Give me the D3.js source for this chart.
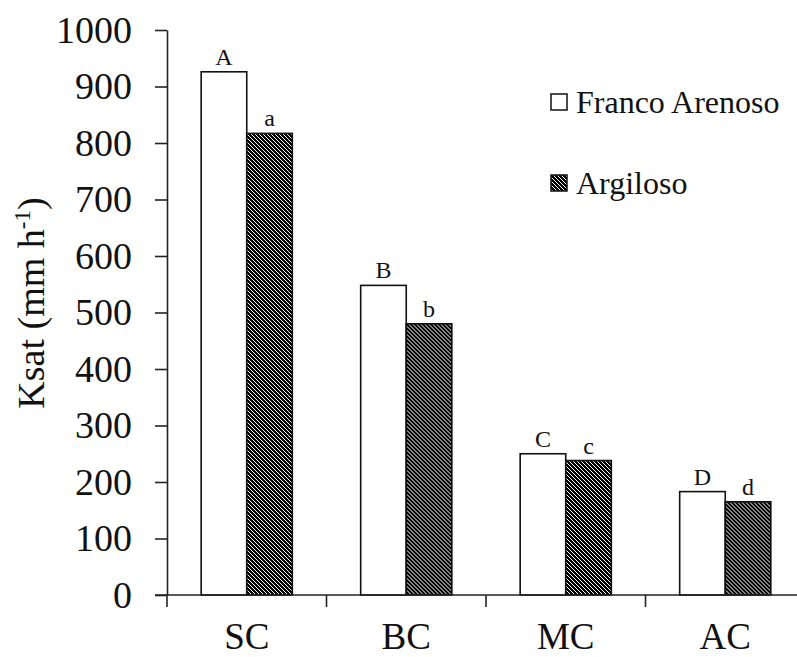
<!DOCTYPE html>
<html>
<head>
<meta charset="utf-8">
<script src="https://cdn.jsdelivr.net/npm/d3@7"></script>
<style>
  html, body { margin: 0; padding: 0; background: #fff; }
  svg { display: block; }
</style>
</head>
<body>
<svg id="chart" width="797" height="657"></svg>
<script>
// Saturated hydraulic conductivity by treatment and soil texture
const categories = ["SC", "BC", "MC", "AC"];
const seriesNames = ["Franco Arenoso", "Argiloso"];
const francoArenoso = [926, 548, 250, 183];
const argiloso = [817, 480, 238, 165];
const francoLetters = ["A", "B", "C", "D"];
const argilosoLetters = ["a", "b", "c", "d"];
const yTicks = [0, 100, 200, 300, 400, 500, 600, 700, 800, 900, 1000];

const SERIF = "'Liberation Serif', 'Times New Roman', serif";
const INK = "#111";

const svg = d3.select("#chart");

const plotLeft = 167, plotRight = 805, plotTop = 30, plotBottom = 595;

const x = d3.scaleBand().domain(categories).range([plotLeft, plotRight]).paddingInner(0).paddingOuter(0);
const inner = d3.scaleBand().domain(seriesNames).range([0, x.bandwidth()]).paddingInner(0).paddingOuter(0.75);
const y = d3.scaleLinear().domain([0, 1000]).range([plotBottom, plotTop]);

// diagonal hatch for the clay-soil series
const defs = svg.append("defs");
const pat = defs.append("pattern")
  .attr("id", "hatch")
  .attr("patternUnits", "userSpaceOnUse")
  .attr("width", 4).attr("height", 4);
pat.append("rect").attr("width", 4).attr("height", 4).attr("fill", "#fff");
pat.append("path")
  .attr("d", "M-1,-1L5,5M-1,3L1,5M3,-1L5,1")
  .attr("stroke", "#000").attr("stroke-width", 1.5)
  .attr("shape-rendering", "crispEdges");

const fills = { "Franco Arenoso": "#fff", "Argiloso": "url(#hatch)" };

const rows = categories.map((c, i) => ({
  cat: c,
  bars: [
    { s: seriesNames[0], v: francoArenoso[i], lab: francoLetters[i] },
    { s: seriesNames[1], v: argiloso[i], lab: argilosoLetters[i] }
  ]
}));

const groups = svg.append("g").selectAll("g")
  .data(rows).join("g")
  .attr("transform", d => `translate(${x(d.cat)},0)`);

groups.selectAll("rect")
  .data(d => d.bars).join("rect")
  .attr("x", d => inner(d.s))
  .attr("y", d => y(d.v))
  .attr("width", inner.bandwidth())
  .attr("height", d => y(0) - y(d.v))
  .attr("fill", d => fills[d.s])
  .attr("stroke", INK)
  .attr("stroke-width", 1.6);

groups.selectAll("text.lab")
  .data(d => d.bars).join("text")
  .attr("class", "lab")
  .attr("x", d => inner(d.s) + inner.bandwidth() / 2)
  .attr("y", d => y(d.v) - 7)
  .attr("text-anchor", "middle")
  .style("font-family", SERIF)
  .style("font-size", "24px")
  .style("fill", INK)
  .text(d => d.lab);

// y axis
const yAxis = svg.append("g")
  .attr("transform", `translate(${plotLeft},0)`)
  .call(d3.axisLeft(y).tickValues(yTicks).tickFormat(d3.format("d"))
    .tickSize(12).tickSizeOuter(0).tickPadding(23));
yAxis.selectAll("text")
  .style("font-family", SERIF).style("font-size", "38px").style("fill", INK);
yAxis.selectAll("line, path").attr("stroke", "#222").attr("stroke-width", 1.6);

// x axis: labels centred in bands, ticks on band boundaries
const xAxis = svg.append("g")
  .attr("transform", `translate(0,${plotBottom})`)
  .call(d3.axisBottom(x).tickSize(0).tickPadding(28));
xAxis.select("path.domain").remove();
xAxis.selectAll("text")
  .style("font-family", SERIF).style("font-size", "37px").style("fill", INK);

const xBase = svg.append("g").attr("transform", `translate(0,${plotBottom})`);
xBase.append("line")
  .attr("x1", plotLeft - 12).attr("x2", plotRight)
  .attr("stroke", "#222").attr("stroke-width", 1.6);
xBase.selectAll("line.tick")
  .data(categories).join("line")
  .attr("class", "tick")
  .attr("x1", d => x(d)).attr("x2", d => x(d))
  .attr("y1", 0).attr("y2", 12)
  .attr("stroke", "#222").attr("stroke-width", 1.6);

// y-axis title
svg.append("text")
  .attr("transform", "translate(44,303) rotate(-90)")
  .attr("text-anchor", "middle")
  .style("font-family", SERIF).style("font-size", "38px").style("fill", INK)
  .call(t => {
    t.append("tspan").text("Ksat (mm h");
    t.append("tspan").style("font-size", "23px").attr("dy", -14).text("-1");
    t.append("tspan").attr("dy", 14).text(")");
  });

// legend
const legend = svg.append("g");
const legendY = [94, 175];
seriesNames.forEach((s, i) => {
  const g = legend.append("g").attr("transform", `translate(551,${legendY[i]})`);
  g.append("rect")
    .attr("width", 16).attr("height", 16)
    .attr("fill", fills[s])
    .attr("stroke", INK).attr("stroke-width", 1.5);
  g.append("text")
    .attr("x", 25).attr("y", 19)
    .style("font-family", SERIF).style("font-size", "32px").style("fill", INK)
    .text(s);
});
</script>
</body>
</html>
